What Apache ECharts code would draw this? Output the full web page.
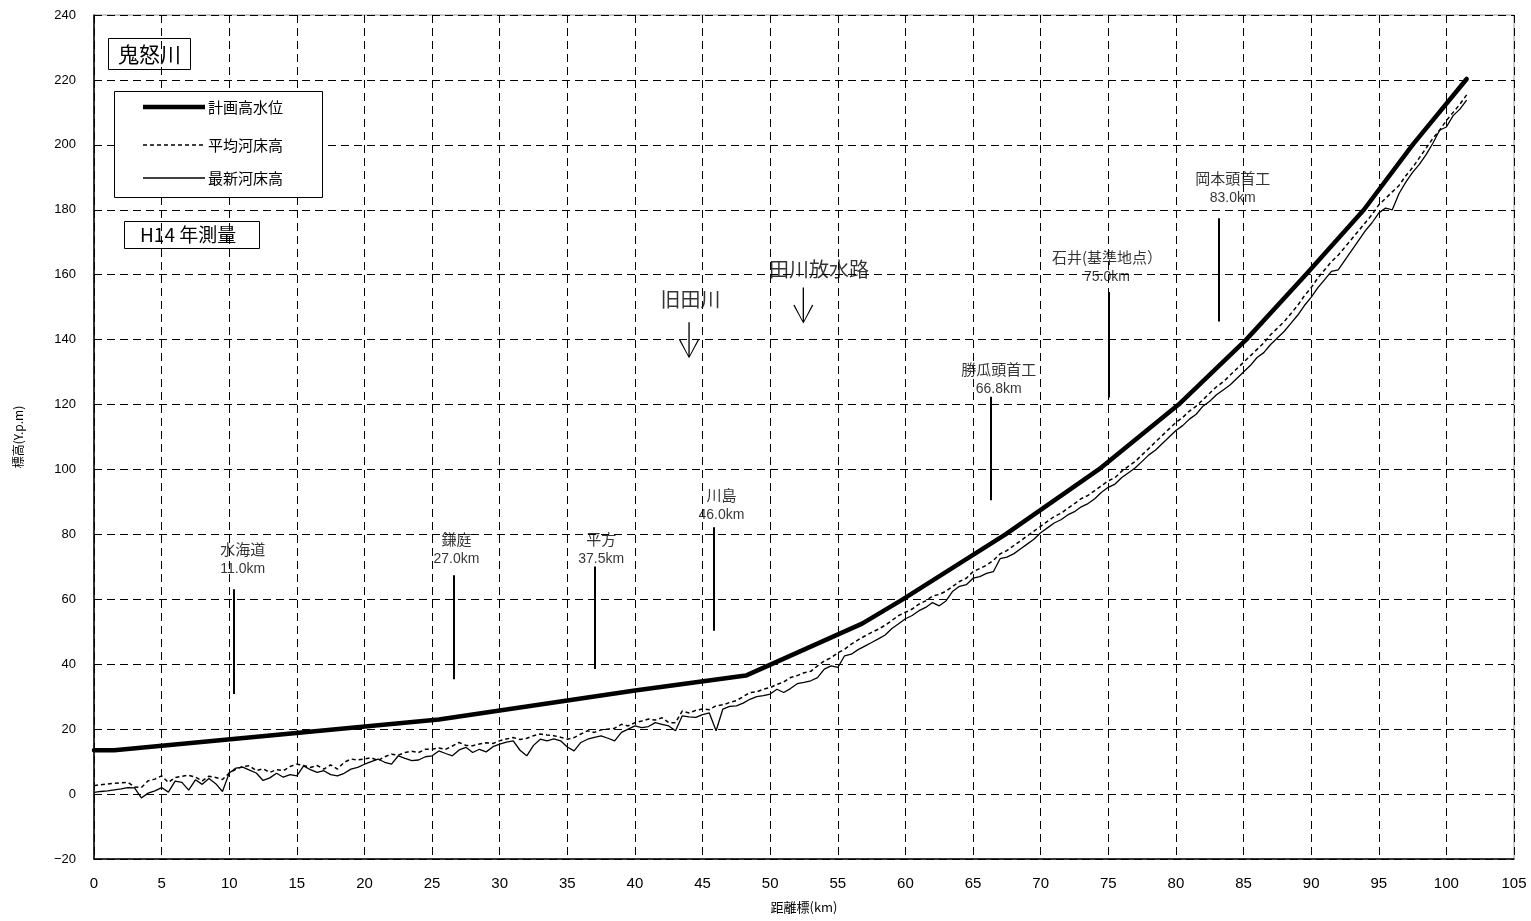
<!DOCTYPE html>
<html><head><meta charset="utf-8">
<script src="https://cdn.jsdelivr.net/npm/echarts@6/dist/echarts.min.js"></script>
<style>html,body{margin:0;padding:0;background:#fff}#c{width:1531px;height:921px}</style>
</head><body><div id="c"></div>
<script>
// ---- data ----
const xTicks = [0,5,10,15,20,25,30,35,40,45,50,55,60,65,70,75,80,85,90,95,100,105];
const yTicks = [-20,0,20,40,60,80,100,120,140,160,180,200,220,240];

const planKm    = [0,1.5,25.5,40,48.2,56.8,59.8,67.4,74.3,80.2,85.2,89.6,93.9,97.5,101.5];
const planLevel = [13.5,13.5,23,31.9,36.5,52.5,60,80,100,120,140,160,180,200,220.3];

const bedKm = [
 0,0.5,1,1.5,2,2.5,3,3.5,4,4.5,5,5.5,6,6.5,7,7.5,8,8.5,9,9.5,
 10,10.5,11,11.5,12,12.5,13,13.5,14,14.5,15,15.5,16,16.5,17,17.5,18,18.5,19,19.5,
 20,20.5,21,21.5,22,22.5,23,23.5,24,24.5,25,25.5,26,26.5,27,27.5,28,28.5,29,29.5,
 30,30.5,31,31.5,32,32.5,33,33.5,34,34.5,35,35.5,36,36.5,37,37.5,38,38.5,39,39.5,
 40,40.5,41,41.5,42,42.5,43,43.5,44,44.5,45,45.5,46,46.5,47,47.5,48,48.5,49,49.5,
 50,50.5,51,51.5,52,52.5,53,53.5,54,54.5,55,55.5,56,56.5,57,57.5,58,58.5,59,59.5,
 60,60.5,61,61.5,62,62.5,63,63.5,64,64.5,65,65.5,66,66.5,67,67.5,68,68.5,69,69.5,
 70,70.5,71,71.5,72,72.5,73,73.5,74,74.5,75,75.5,76,76.5,77,77.5,78,78.5,79,79.5,
 80,80.5,81,81.5,82,82.5,83,83.5,84,84.5,85,85.5,86,86.5,87,87.5,88,88.5,89,89.5,
 90,90.5,91,91.5,92,92.5,93,93.5,94,94.5,95,95.5,96,96.5,97,97.5,98,98.5,99,99.5,
 100,100.5,101,101.5];

const avgBed = [
 2.6,2.9,3.1,3.3,3.5,3.6,2.2,2.0,4.1,4.6, 5.6,3.6,5.1,5.5,5.8,5.2,4.1,5.5,5.1,4.5,
 6.5,7.7,8.5,8.7,7.2,7.8,6.7,7.5,7.2,8.5, 9.2,8.8,8.2,8.8,7.7,9.0,7.7,9.8,10.8,10.5,
 10.8,11.2,10.3,11.5,12.3,12.0,12.8,13.2,12.8,13.8, 13.8,14.2,13.8,14.8,15.9,15.0,14.9,15.4,15.8,15.6,
 16.4,17.0,17.4,16.8,17.2,18.0,18.5,18.2,18.0,17.5, 16.9,17.4,18.5,19.5,19.0,19.8,20.0,20.3,21.5,21.0,
 22.0,22.5,23.1,22.8,23.5,22.0,22.0,25.6,25.0,25.8, 26.2,26.0,27.2,27.5,28.2,28.8,30.0,31.3,31.5,32.3,
 32.8,33.8,34.5,35.9,36.5,37.4,37.8,39.5,41.0,42.0, 43.5,44.6,46.2,47.5,48.7,49.8,50.8,52.0,53.5,55.0,
 56.0,57.0,58.5,59.5,61.0,61.5,62.5,64.0,65.5,66.5, 68.5,69.5,70.5,72.0,74.0,75.0,76.5,78.0,79.5,81.0,
 82.5,84.0,85.5,86.5,88.0,89.5,91.0,92.0,93.5,95.0, 96.5,97.5,99.5,101.0,102.5,104.5,106.5,108.5,110.5,112.5,
 114.5,116.0,118.0,119.5,121.5,123.5,125.5,127.0,129.0,131.0, 133.0,135.0,137.0,139.0,141.5,143.5,145.5,148.0,150.5,153.5,
 156.0,159.0,161.5,164.0,166.0,168.5,171.0,173.5,176.0,178.5, 181.5,183.5,185.5,187.5,190.5,193.0,196.0,199.0,202.0,204.5,
 207.5,210.0,212.5,215.4];

const latestBed = [
 0.5,0.8,1.0,1.3,1.6,2.0,1.9,-1.2,0.3,1.0, 2.0,0.6,4.0,3.6,1.2,4.4,3.0,4.8,3.2,0.8,
 6.5,8.0,8.3,7.4,6.5,4.2,5.0,6.4,5.2,6.0, 5.6,8.7,7.5,6.7,7.2,6.0,5.6,6.4,7.7,8.2,
 9.2,10.0,10.8,9.8,9.2,11.8,11.0,10.3,10.5,11.5, 11.8,13.3,12.5,11.8,13.6,14.4,12.8,13.8,13.0,14.6,
 15.4,16.0,16.4,13.5,11.8,15.0,16.9,16.4,17.0,16.4, 14.5,13.3,15.9,16.9,17.5,17.9,17.2,16.4,19.0,20.0,
 21.0,20.5,20.8,22.0,21.5,21.0,19.5,24.1,23.8,23.6, 24.5,25.0,19.5,26.2,27.0,27.2,28.0,29.2,30.0,30.3,
 30.8,32.3,31.3,32.5,34.0,34.4,34.9,35.9,38.5,39.5, 39.0,42.6,43.1,44.5,45.6,46.7,47.8,49.0,51.0,52.5,
 54.0,55.0,56.5,57.5,59.0,58.0,59.5,62.5,64.0,64.5, 66.5,67.0,68.0,68.5,72.5,73.0,74.0,75.5,77.0,78.5,
 80.5,82.0,83.5,84.5,86.0,87.0,88.5,89.5,91.0,93.0, 94.5,95.5,97.5,99.0,100.5,102.5,104.5,106.0,108.0,110.0,
 112.0,113.5,115.5,117.0,119.5,121.0,123.0,124.5,126.0,128.0, 130.0,132.0,134.5,136.0,138.5,140.5,142.5,145.0,147.5,150.5,
 153.0,156.0,158.5,161.0,161.5,164.5,167.5,170.5,173.5,176.0, 179.0,180.5,180.0,185.0,188.5,191.5,194.0,197.0,200.5,204.5,
 205.5,209.0,211.0,213.8];

const seriesNames = ['計画高水位','平均河床高','最新河床高'];

const stationNames  = ['水海道','鎌庭','平方','川島','勝瓜頭首工','石井(基準地点）','岡本頭首工'];
const stationKmText = ['11.0km','27.0km','37.5km','46.0km','66.8km','75.0km','83.0km'];
const stationLineKm = [10.3,26.6,37.05,45.8,66.3,75.0,83.2];
const stationLineTop    = [63.1,67.4,70.1,82.2,122.4,154.7,177.4];
const stationLineBottom = [30.8,35.4,38.5,50.3,90.5,122.2,145.6];
const stationLabelKm = [11.0,26.8,37.5,46.4,66.9,74.9,84.2];
const stationLabelY  = [72.3,75.4,75.4,89.1,127.7,162.2,186.6];

const riverNames   = ['旧田川','田川放水路'];
const riverLabelKm = [44.1,53.6];
const riverLabelY  = [152.3,161.5];
const riverArrowKm = [44.0,52.45];
const riverArrowY  = [139.8,150.5];

// ---- chart ----
const CJK = '"Noto Sans CJK JP","Noto Sans CJK SC",sans-serif';
const chart = echarts.init(document.getElementById('c'), null, {renderer:'canvas'});
const arrowPath = 'path://M9.4,0 L10.6,0 L10.6,33.5 L18,17.5 L19.1,18 L10,36.5 L0.9,18 L2,17.5 L9.4,33.5 Z';

const stationLines = stationNames.map((n,i)=>[
  {coord:[stationLineKm[i], stationLineTop[i]]},
  {coord:[stationLineKm[i], stationLineBottom[i]]}
]);

const annData = stationNames.map((n,i)=>({
  value:[stationLabelKm[i], stationLabelY[i]],
  label:{formatter:'{n|'+n+'}\n{k|'+stationKmText[i]+'}'}
})).concat(riverNames.map((n,i)=>({
  value:[riverLabelKm[i], riverLabelY[i]],
  label:{formatter:'{r|'+n+'}'}
})));

// legend drawn as graphic (line samples with series styles)
const legendStyles = [
  {lineWidth:4.5, lineDash:null},
  {lineWidth:1.5, lineDash:[4,3]},
  {lineWidth:1.3, lineDash:null}
];
const legendRowY = [107, 145, 178];
const legendGraphic = [{
  type:'rect', left:114, top:91, shape:{width:208, height:106},
  style:{fill:'#fff', stroke:'#000', lineWidth:1}, z:10
}];
seriesNames.forEach((n,i)=>{
  const yy = legendRowY[i];
  legendGraphic.push({type:'line', shape:{x1:143, y1:yy, x2:205, y2:yy},
    style:{stroke:'#000', lineWidth:legendStyles[i].lineWidth, lineDash:legendStyles[i].lineDash}, z:11});
  legendGraphic.push({type:'text', x:208, y:yy,
    style:{text:n, fill:'#000', font:'15px '+CJK, textVerticalAlign:'middle', verticalAlign:'middle'}, z:11});
});

const option = {
  animation:false,
  backgroundColor:'#fff',
  title:[
    {text:'鬼怒川', left:108, top:38, borderColor:'#000', borderWidth:1, padding:[4,10,4,10],
     textStyle:{fontFamily:CJK, fontSize:21, fontWeight:'normal', color:'#000', lineHeight:24}},
    {text:'H14 年測量', left:124, top:221, borderColor:'#000', borderWidth:1, padding:[2,24,2,16],
     textStyle:{fontFamily:CJK, fontSize:19, fontWeight:'normal', color:'#000', lineHeight:24}}
  ],
  graphic:legendGraphic,
  grid:{left:94, top:15, right:17, bottom:62, show:true, borderColor:'#999', borderWidth:1},
  xAxis:{
    type:'value', min:0, max:105, interval:5,
    name:'距離標(km)', nameLocation:'middle', nameGap:42,
    nameTextStyle:{fontFamily:CJK, fontSize:13, color:'#000'},
    axisLine:{show:true, onZero:false, lineStyle:{color:'#000', width:1.5}},
    axisTick:{show:false},
    axisLabel:{fontFamily:'"Liberation Sans Narrow","Liberation Sans",sans-serif', fontSize:15, color:'#000', margin:17,
      formatter:v=>xTicks.includes(v)?String(v):''},
    splitLine:{show:true, lineStyle:{color:'#000', width:1, type:[8,5]}}
  },
  yAxis:{
    type:'value', min:-20, max:240, interval:20,
    name:'標高(Y.p.m)', nameLocation:'middle', nameGap:70, nameRotate:90,
    nameTextStyle:{fontFamily:CJK, fontSize:12, color:'#000'},
    axisLine:{show:true, onZero:false, lineStyle:{color:'#000', width:1.5}},
    axisTick:{show:false},
    axisLabel:{fontFamily:'"Liberation Sans",Arial,sans-serif', fontSize:13, color:'#000', margin:18,
      formatter:v=>yTicks.includes(v)?(v<0?'\u221220':String(v)):''},
    splitLine:{show:true, lineStyle:{color:'#000', width:1, type:[8,5]}}
  },
  series:[
    {name:seriesNames[1], type:'line', symbol:'none', z:3,
     lineStyle:{color:'#000', width:1.5, type:[4,3]}, itemStyle:{color:'#000'},
     data:bedKm.map((k,i)=>[k, avgBed[i]])},
    {name:seriesNames[2], type:'line', symbol:'none', z:3,
     lineStyle:{color:'#000', width:1.3}, itemStyle:{color:'#000'},
     data:bedKm.map((k,i)=>[k, latestBed[i]])},
    {name:seriesNames[0], type:'line', symbol:'none', z:4,
     lineStyle:{color:'#000', width:4.5, cap:'round', join:'round'}, itemStyle:{color:'#000'},
     data:planKm.map((k,i)=>[k, planLevel[i]]),
     markLine:{silent:true, symbol:['none','none'], label:{show:false},
       lineStyle:{color:'#000', width:2, type:'solid'}, data:stationLines},
     markPoint:{silent:true, symbol:arrowPath, symbolSize:[20,36], label:{show:false},
       itemStyle:{color:'#000'},
       data:riverArrowKm.map((k,i)=>({coord:[k, riverArrowY[i]]}))}
    },
    {name:'ann', type:'scatter', symbolSize:0, z:5, silent:true,
     data:annData,
     label:{show:true, position:'inside', color:'#000', align:'center', verticalAlign:'middle',
       rich:{
         n:{fontFamily:CJK, fontSize:15, lineHeight:20, color:'#000'},
         k:{fontFamily:'"Liberation Sans",Arial,sans-serif', fontSize:14, lineHeight:20, color:'#000'},
         r:{fontFamily:CJK, fontSize:20, lineHeight:24, color:'#000'}
       }}
    }
  ]
};
chart.setOption(option);
</script>
</body></html>
